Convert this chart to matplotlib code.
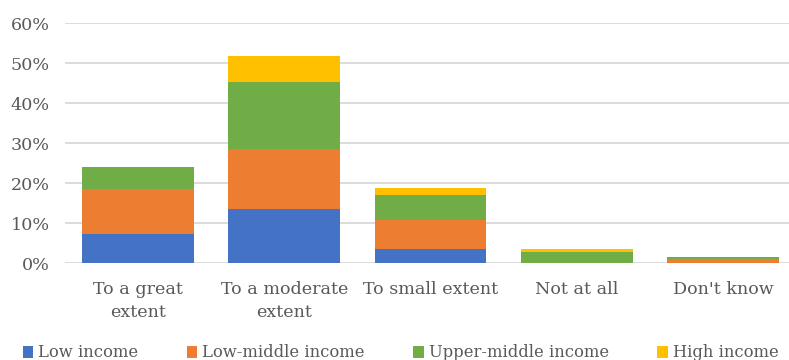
import numpy as np
import matplotlib
matplotlib.use("Agg")
import matplotlib.pyplot as plt
from matplotlib.ticker import PercentFormatter

categories = ["To a great\nextent", "To a moderate\nextent", "To small extent",
              "Not at all", "Don't know"]
series_names = ["Low income", "Low-middle income", "Upper-middle income", "High income"]
low = [7.3, 13.5, 3.6, 0.0, 0.0]
low_middle = [11.4, 15.15, 7.3, 0.0, 1.0]
upper_middle = [5.35, 16.75, 6.1, 2.75, 0.65]
high = [0.0, 6.35, 1.75, 0.75, 0.0]
colors = ["#4472C4", "#ED7D31", "#70AD47", "#FFC000"]

plt.rcParams["font.family"] = ["DejaVu Serif"]
text_color = "#595959"

fig = plt.figure(figsize=(7.89, 3.6), dpi=100)
ax = fig.add_axes([65 / 789, 96.7 / 360, 731 / 789, 240 / 360])

x = np.arange(len(categories))
bottom = np.zeros(len(categories))
for name, vals, c in zip(series_names, [low, low_middle, upper_middle, high], colors):
    vals = np.array(vals)
    ax.bar(x, vals, width=0.766, bottom=bottom, color=c, label=name, zorder=3)
    bottom += vals

ax.set_xlim(-0.5, 4.5)
ax.set_ylim(0, 60)
ax.set_yticks(np.arange(0, 61, 10))
ax.yaxis.set_major_formatter(PercentFormatter(decimals=0))
ax.set_xticks(x)
ax.set_xticklabels(categories, fontsize=12.6, color=text_color, linespacing=1.4)
ax.tick_params(axis="y", labelsize=12.6, labelcolor=text_color, length=0, pad=11)
ax.tick_params(axis="x", length=0, pad=13)
ax.grid(axis="y", color="#d9d9d9", linewidth=1.3, zorder=0)
for s in ax.spines.values():
    s.set_visible(False)

fig.legend(loc="lower left", bbox_to_anchor=(8 / 789, -0.045), ncol=4, frameon=False,
           fontsize=11.8, handlelength=0.65, handleheight=0.75, handletextpad=0.3,
           columnspacing=2.95, labelcolor=text_color)

fig.savefig("out.png", dpi=100)
